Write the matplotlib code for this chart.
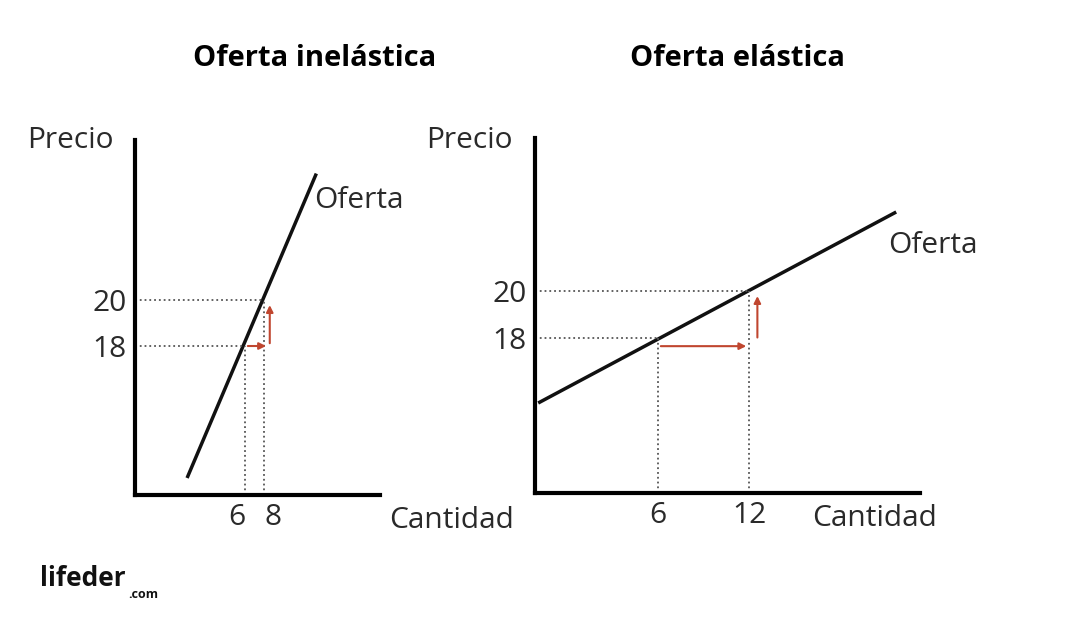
import matplotlib
matplotlib.use("Agg")
import matplotlib.pyplot as plt

plt.rcParams['font.family'] = ['Open Sans', 'DejaVu Sans']

W, H = 1068, 622
# left panel (inelastic)
L_qticks = [6, 8]
L_pticks = [18, 20]
L_line_q = [-0.1, 13.5]
L_line_p = [12.26, 25.5]
L_xlim = (-5.58, 20.2); L_ylim = (11.52, 26.96)
# right panel (elastic)
R_qticks = [6, 12]
R_pticks = [18, 20]
R_line_q = [-1.9, 21.7]
R_line_p = [15.23, 23.36]
R_xlim = (-2.11, 23.27); R_ylim = (11.40, 26.51)

fig = plt.figure(figsize=(W/100, H/100), dpi=100)
red = '#c0462f'
FS = 21.5
TC = '#2a2a2a'

def panel(x0, x1, ytop, ybot, xlim, ylim, qt, pt, lq, lp, title, tx, harrow, varrow, oferta_xy):
    ax = fig.add_axes([x0/W, (H-ybot)/H, (x1-x0)/W, (ybot-ytop)/H])
    ax.set_xlim(*xlim); ax.set_ylim(*ylim)
    for s in ['top', 'right']:
        ax.spines[s].set_visible(False)
    for s in ['left', 'bottom']:
        ax.spines[s].set_linewidth(3)
    ax.set_xticks(qt); ax.set_xticklabels([str(v) for v in qt])
    ax.set_yticks(pt); ax.set_yticklabels([str(v) for v in pt])
    ax.tick_params(length=0, labelsize=FS, pad=6, colors=TC)
    ax.plot(lq, lp, color='#111', lw=2.5, solid_capstyle='butt')
    for q, p in zip(qt, pt):
        ax.plot([xlim[0], q], [p, p], ls=':', color='#555', lw=1.3)
        ax.plot([q, q], [ylim[0], p], ls=':', color='#555', lw=1.3)
    (hx0, hx1, hy), (vx, vy0, vy1) = harrow, varrow
    ax.annotate('', xy=(hx1, hy), xytext=(hx0, hy),
                arrowprops=dict(arrowstyle='-|>', color=red, lw=1.5, mutation_scale=10))
    ax.annotate('', xy=(vx, vy1), xytext=(vx, vy0),
                arrowprops=dict(arrowstyle='-|>', color=red, lw=1.5, mutation_scale=10))
    ax.text(oferta_xy[0], oferta_xy[1], 'Oferta', fontsize=FS, color=TC, transform=ax.transData)
    fig.text(tx/W, 1-58/H, title, fontsize=21, fontweight='bold', ha='center', va='center')
    return ax

axL = panel(135, 380, 140, 495, L_xlim, L_ylim, L_qticks, L_pticks, L_line_q, L_line_p,
      'Oferta inelástica', 315, (6, 8.5, 18), (8.6, 18, 19.9), (13.3, 24.0))
for lab, ha in zip(axL.get_xticklabels(), ['right', 'left']):
    lab.set_ha(ha)
panel(535, 920, 138, 493, R_xlim, R_ylim, R_qticks, R_pticks, R_line_q, R_line_p,
      'Oferta elástica', 738, (6, 12, 17.65), (12.55, 17.9, 19.9), (21.2, 21.6))

fig.text(27/W, 1-140/H, 'Precio', fontsize=FS, color=TC, va='center')
fig.text(426/W, 1-140/H, 'Precio', fontsize=FS, color=TC, va='center')
fig.text(389/W, 1-521/H, 'Cantidad', fontsize=FS, color=TC, va='center')
fig.text(812/W, 1-518/H, 'Cantidad', fontsize=FS, color=TC, va='center')
fig.text(40/W, 1-578/H, 'lifeder', fontsize=19, fontweight='bold', color='#111', va='center')
fig.text(128/W, 1-595/H, '.com', fontsize=9, fontweight='bold', color='#111', va='center')

fig.savefig('out.png', dpi=100, facecolor='white')
